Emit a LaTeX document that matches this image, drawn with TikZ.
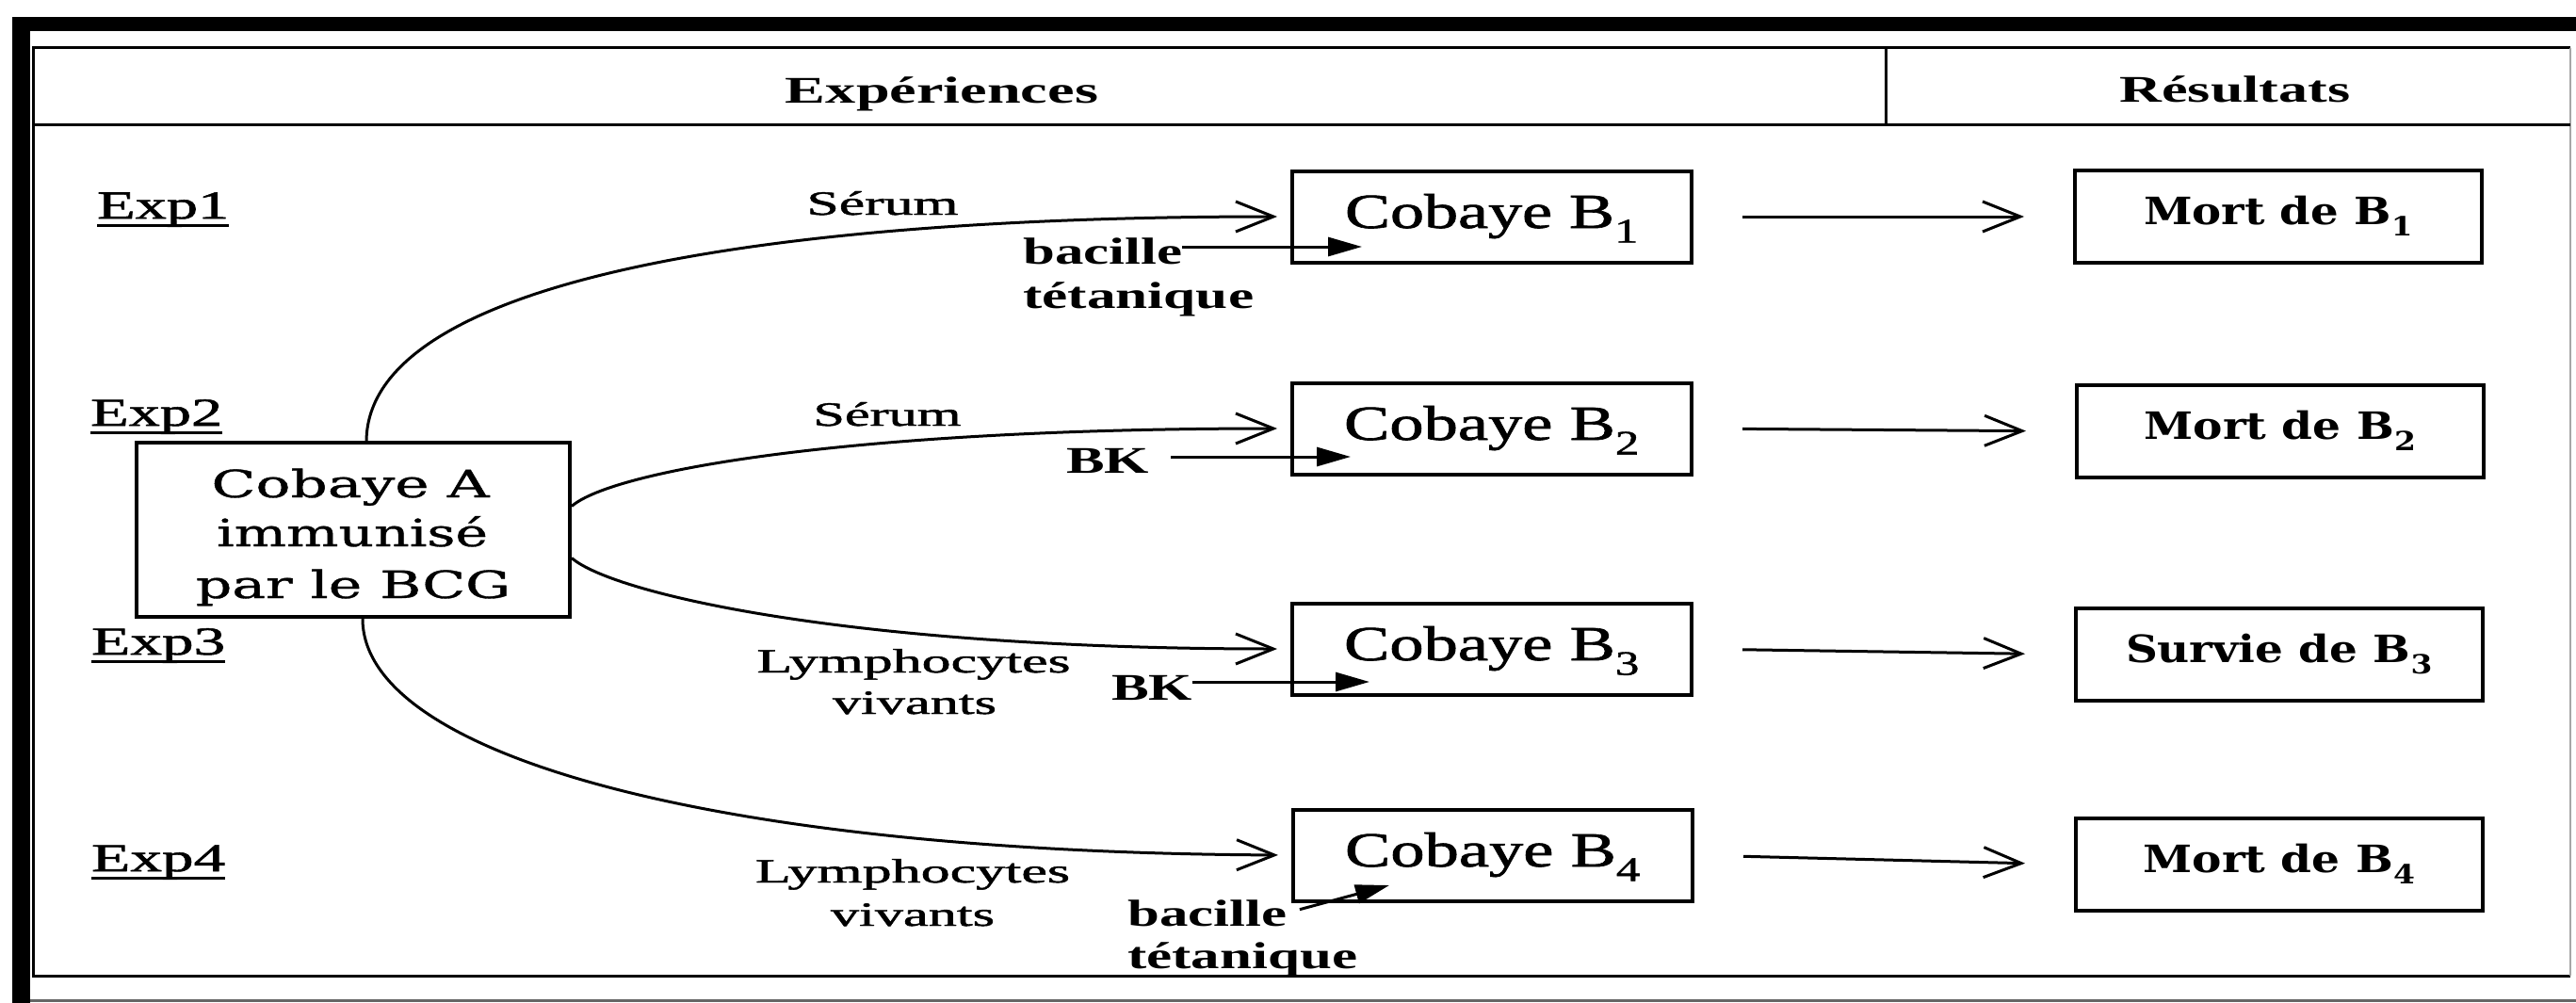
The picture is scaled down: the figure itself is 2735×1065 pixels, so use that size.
\documentclass[tikz,border=0pt]{standalone}
\usepackage{fontspec}
\setmainfont{Liberation Serif}[UprightFeatures={FakeBold=1.2}]
\newfontfamily\centfont{DejaVu Serif}[UprightFeatures={FakeBold=0.8}]
\usetikzlibrary{arrows.meta}
\newcommand\fitw[2]{\resizebox{#1}{\height}{#2}}
\begin{document}
\begin{tikzpicture}[x=1pt,y=-1pt,
  every node/.style={inner sep=0pt},
  hdr/.style={anchor=base, font=\bfseries\fontsize{40}{44}\selectfont},
  explbl/.style={anchor=base west, font=\fontsize{42}{46}\selectfont},
  uline/.style={line width=3pt},
  abox/.style={draw, line width=4pt, minimum width=460pt, minimum height=185pt},
  atxt/.style={anchor=base, font=\centfont\fontsize{40}{44}\selectfont},
  cbox/.style={draw, line width=4pt, minimum width=424pt, minimum height=97pt,
    text height=35pt, text depth=11pt, font=\fontsize{52}{58}\selectfont},
  rbox/.style={draw, line width=4pt, minimum width=432pt, minimum height=98pt,
    text height=30pt, text depth=14pt, font=\centfont\bfseries\fontsize{40}{46}\selectfont},
  lbl/.style={anchor=base, font=\fontsize{36}{40}\selectfont},
  blbl/.style={anchor=base west, font=\bfseries\fontsize{40}{44}\selectfont},
  curve/.style={line width=3pt, -{Straight Barb[length=40pt,width=32pt,line width=3pt]}, shorten >=14pt},
  resarrow/.style={line width=3pt, -{Straight Barb[length=40pt,width=32pt,line width=3pt]}, shorten <=52pt, shorten >=52pt},
  inj/.style={line width=3pt, -{Triangle[length=36pt,width=20pt]}}
]
\useasboundingbox (0,0) rectangle (2735,1065);
\fill[white] (0,0) rectangle (2735,1065);
% outer frame
\fill[black] (13,18) rectangle (2735,33);
\fill[black] (13,18) rectangle (32,1065);
\draw[line width=3pt, black!60] (32,1062) -- (2735,1062);
% table
\draw[line width=3pt] (2729,51) -- (35,51) -- (35,1036) -- (2729,1036);
\draw[line width=1.5pt, black!35] (2729,51) -- (2729,1036);
\draw[line width=3pt] (35,132) -- (2729,132);
\draw[line width=3pt] (2002,51) -- (2002,132);
% headers
\node[hdr] (hexp) at (1000,109) {\fitw{332pt}{Expériences}};
\node[hdr] (hres) at (2373,108) {\fitw{245pt}{Résultats}};
% experiment labels
\node[explbl] (e1) at (103,232) {\fitw{140pt}{Exp1}};
\node[explbl] (e2) at (96,452) {\fitw{140pt}{Exp2}};
\node[explbl] (e3) at (97,695) {\fitw{142pt}{Exp3}};
\node[explbl] (e4) at (97,925) {\fitw{142pt}{Exp4}};
\foreach \e in {e1,e2,e3,e4}{
  \draw[uline] ([yshift=-7pt]\e.base west) -- ([yshift=-7pt]\e.base east);
}
% Cobaye A
\node[abox] (A) at (375,562.5) {};
\node[atxt] (A1) at (372,528) {\fitw{295pt}{Cobaye A}};
\node[atxt] (A2) at (374,580) {\fitw{288pt}{immunisé}};
\node[atxt] (A3) at (375,635) {\fitw{334pt}{par le BCG}};
% Cobaye B boxes
\node[cbox] (B1) at (1584,230) {\fitw{312pt}{Cobaye B\textsubscript{1}}};
\node[cbox] (B2) at (1584,455) {\fitw{314pt}{Cobaye B\textsubscript{2}}};
\node[cbox] (B3) at (1584,689) {\fitw{314pt}{Cobaye B\textsubscript{3}}};
\node[cbox] (B4) at (1585,908) {\fitw{314pt}{Cobaye B\textsubscript{4}}};
% result boxes
\node[rbox] (R1) at (2419,230) {\fitw{286pt}{Mort de B\textsubscript{1}}};
\node[rbox] (R2) at (2421,458) {\fitw{289pt}{Mort de B\textsubscript{2}}};
\node[rbox] (R3) at (2420,695) {\fitw{326pt}{Survie de B\textsubscript{3}}};
\node[rbox] (R4) at (2420,918) {\fitw{289pt}{Mort de B\textsubscript{4}}};
% labels on curves
\node[lbl] (s1) at (937,228) {\fitw{161pt}{Sérum}};
\node[lbl] (s2) at (942,452) {\fitw{157pt}{Sérum}};
\node[lbl] (l3a) at (970,714) {\fitw{333pt}{Lymphocytes}};
\node[lbl] (l3b) at (971,758) {\fitw{174pt}{vivants}};
\node[lbl] (l4a) at (969,937) {\fitw{334pt}{Lymphocytes}};
\node[lbl] (l4b) at (969,983) {\fitw{174pt}{vivants}};
% injected agents
\node[blbl] (bac1) at (1086,280) {\fitw{169pt}{bacille}};
\node[blbl] (tet1) at (1086,327) {\fitw{245pt}{tétanique}};
\node[blbl] (bk2) at (1132,502) {\fitw{88pt}{BK}};
\node[blbl] (bk3) at (1180,743) {\fitw{86pt}{BK}};
\node[blbl] (bac4) at (1197,983) {\fitw{169pt}{bacille}};
\node[blbl] (tet4) at (1197,1028) {\fitw{244pt}{tétanique}};
\coordinate (t1) at (1446,262);
\coordinate (t2) at (1434,485);
\coordinate (t3) at (1454,724);
\coordinate (t4) at (1475,940);
\draw[inj] (bac1.east |- t1) -- (t1);
\draw[inj] ([xshift=23pt]bk2.east |- t2) -- (t2);
\draw[inj] (bk3.east |- t3) -- (t3);
\draw[inj, shorten <=14pt] (bac4.east) -- (t4);
% curves from Cobaye A
\draw[curve] ([xshift=246pt]A.north west) .. controls (391,300) and (800,230) .. (B1.west);
\draw[curve] ([yshift=25pt]A.east) .. controls (650,500) and (900,455) .. (B2.west);
\draw[curve] ([yshift=-30pt]A.east) .. controls (650,630) and (900,689) .. (B3.west);
\draw[curve] ([xshift=10pt]A.south) .. controls (385,800) and (750,905) .. (B4.west);
% result arrows
\draw[resarrow] (B1.east) -- (R1.west);
\draw[resarrow] (B2.east) -- (R2.west);
\draw[resarrow] (B3.east) -- (R3.west);
\draw[resarrow] (B4.east) -- (R4.west);
\end{tikzpicture}
\end{document}
